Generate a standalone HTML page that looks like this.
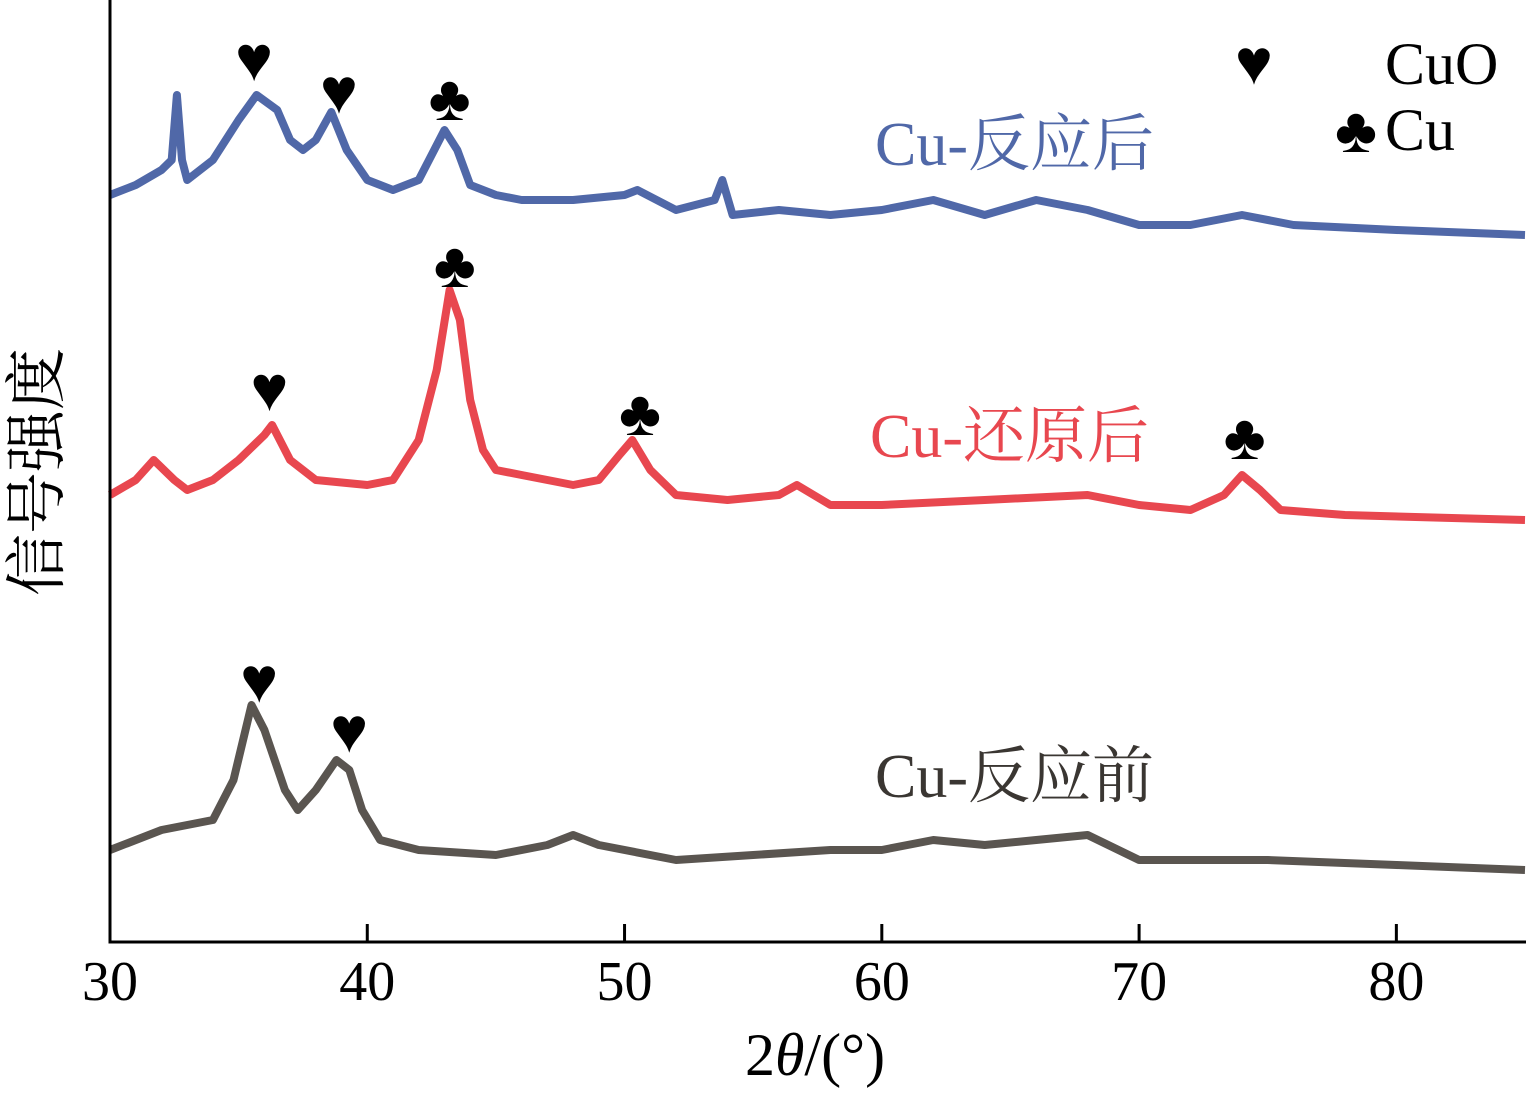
<!DOCTYPE html>
<html><head><meta charset="utf-8">
<style>
html,body{margin:0;padding:0;background:#fff;}
svg text{font-family:"Liberation Serif","Noto Serif CJK SC",serif;}
</style></head>
<body>
<svg id="chart" width="1528" height="1097" xmlns="http://www.w3.org/2000/svg">
<g id="plot"></g>
<line x1="110" y1="0" x2="110" y2="942" stroke="#000" stroke-width="3"/>
<line x1="108.5" y1="942" x2="1526" y2="942" stroke="#000" stroke-width="3"/>
<g id="xticks"></g>
<text transform="translate(58,472) rotate(-90)" font-size="62" text-anchor="middle">信号强度</text>
<text x="815" y="1075" font-size="60" text-anchor="middle">2<tspan font-style="italic">θ</tspan>/(°)</text>
<text x="875" y="165" font-size="62" fill="#5068a8">Cu-反应后</text>
<text x="870" y="457" font-size="62" fill="#e8474f">Cu-还原后</text>
<text x="875" y="797" font-size="62" fill="#3a3632">Cu-反应前</text>
<g>
<text x="1235" y="84" font-size="64">♥</text>
<text x="1385" y="84" font-size="60">CuO</text>
<text x="1335" y="152" font-size="64">♣</text>
<text x="1385" y="150" font-size="60">Cu</text>
</g>
<g id="marks"></g>
</svg>
<script>
const xTicks = [30, 40, 50, 60, 70, 80];
const xsBlue = [30,31,32,32.4,32.6,32.8,33,34,35,35.7,36.5,37,37.5,38,38.6,39.2,40,41,42,42.6,43,43.5,44,45,46,48,50,50.5,52,53.5,53.8,54.2,56,58,60,62,64,66,68,70,72,74,76,80,85];
const vsBlue = [745,755,770,780,845,780,760,780,820,845,830,800,790,800,828,790,760,750,760,790,810,790,755,745,740,740,745,750,730,740,760,725,730,725,730,740,725,740,730,715,715,725,715,710,705];
const xsRed = [30,31,31.7,32.5,33,34,35,36,36.3,37,38,40,41,42,42.7,43.2,43.6,44,44.5,45,46,48,49,49.8,50.3,51,52,54,56,56.7,58,60,64,68,70,72,73.3,74,74.7,75.5,78,85];
const vsRed = [445,460,480,460,450,460,480,505,515,480,460,455,460,500,570,650,620,540,490,470,465,455,460,485,500,470,445,440,445,455,435,435,440,445,435,430,445,465,450,430,425,420];
const xsGray = [30,32,33,34,34.8,35.5,36,36.8,37.3,38,38.8,39.3,39.8,40.5,42,45,47,48,49,52,55,58,60,62,64,66,68,70,75,80,85];
const vsGray = [90,110,115,120,160,235,210,150,130,150,180,170,130,100,90,85,95,105,95,80,85,90,90,100,95,100,105,80,80,75,70];
const cuoPeaks = [[35.6,'blue'],[38.9,'blue'],[36.2,'red'],[35.8,'gray'],[39.3,'gray']];
const cuPeaks = [[43.2,'blue'],[43.4,'red'],[50.6,'red'],[74.1,'red']];

const X0=30,X1=85,PX0=110,PX1=1525;
function xScale(v){return PX0+(v-X0)/(X1-X0)*(PX1-PX0);}
function yScale(v){return 940-v;}
function interp(xs,vs,x){for(let i=1;i<xs.length;i++){if(x<=xs[i]){const t=(x-xs[i-1])/(xs[i]-xs[i-1]);return vs[i-1]+t*(vs[i]-vs[i-1]);}}return vs[vs.length-1];}
const NS='http://www.w3.org/2000/svg';
const plot=document.getElementById('plot');
function drawSeries(xs,vs,color,name){
  const p=document.createElementNS(NS,'polyline');
  p.setAttribute('points',xs.map((x,i)=>xScale(x).toFixed(1)+','+yScale(vs[i]).toFixed(1)).join(' '));
  p.setAttribute('fill','none');p.setAttribute('stroke',color);p.setAttribute('stroke-width','8');p.setAttribute('stroke-linejoin','round');
  
  
  plot.appendChild(p);
}
drawSeries(xsBlue,vsBlue,'#5068a8','series-cu-after-reaction');
drawSeries(xsRed,vsRed,'#e8474f','series-cu-after-reduction');
drawSeries(xsGray,vsGray,'#5a5550','series-cu-before-reaction');

const xt=document.getElementById('xticks');
xTicks.forEach(v=>{
  const l=document.createElementNS(NS,'line');
  l.setAttribute('x1',xScale(v));l.setAttribute('x2',xScale(v));l.setAttribute('y1',942);l.setAttribute('y2',924);
  l.setAttribute('stroke','#000');l.setAttribute('stroke-width','3');
  
  
  xt.appendChild(l);
  const t=document.createElementNS(NS,'text');
  t.setAttribute('x',xScale(v));t.setAttribute('y',1000);t.setAttribute('font-size','56');t.setAttribute('text-anchor','middle');
  t.textContent=v;
  
  
  xt.appendChild(t);
});
const series={blue:[xsBlue,vsBlue],red:[xsRed,vsRed],gray:[xsGray,vsGray]};
const mk=document.getElementById('marks');
function drawMarker(x,s,glyph,name){
  const v=interp(series[s][0],series[s][1],x);
  const t=document.createElementNS(NS,'text');
  t.setAttribute('x',xScale(x));t.setAttribute('y',yScale(v)-18);t.setAttribute('font-size','64');t.setAttribute('text-anchor','middle');
  t.textContent=glyph;
  
  
  mk.appendChild(t);
}
cuoPeaks.forEach(p=>drawMarker(p[0],p[1],'♥','cuo-peak-marker'));
cuPeaks.forEach(p=>drawMarker(p[0],p[1],'♣','cu-peak-marker'));
</script>
</body></html>
